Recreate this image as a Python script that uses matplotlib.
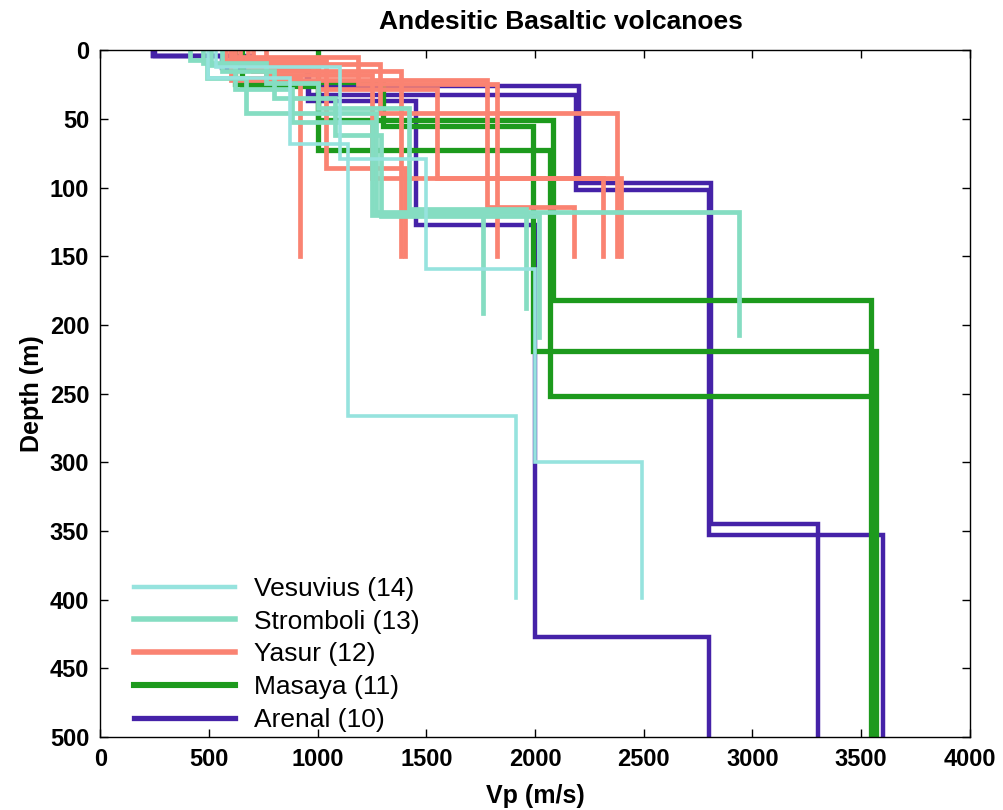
import matplotlib.pyplot as plt
from matplotlib.lines import Line2D
import numpy as np

# Layered Vp models: depth interfaces (m) and layer velocities (m/s)
vesuvius_depth = [[0, 20, 68, 266, 399],
                  [0, 12, 79, 159, 300, 399]]
vesuvius_vp = [[495, 870, 1140, 1910],
               [530, 1100, 1500, 2000, 2490]]

stromboli_depth = [[0, 7, 20, 46, 118, 207],
                   [0, 11, 28, 52, 120, 191],
                   [0, 9, 24, 42, 116, 188],
                   [0, 15, 35, 62, 121, 209]]
stromboli_vp = [[410, 490, 670, 1270, 2940],
                [510, 620, 880, 1250, 1760],
                [470, 760, 1000, 1420, 1960],
                [560, 800, 1080, 1290, 2020]]

yasur_depth = [[0, 5, 25, 150],
               [0, 15, 150],
               [0, 10, 46, 150],
               [0, 12, 28, 93, 150],
               [0, 18, 93, 150],
               [0, 22, 114, 150],
               [0, 20, 150],
               [0, 8, 86, 150]]
yasur_vp = [[600, 1185, 1823],
            [700, 1385],
            [640, 1285, 2375],
            [680, 1000, 1548, 2310],
            [760, 1250, 2395],
            [600, 1780, 2180],
            [620, 920],
            [580, 1040, 1400]]

masaya_depth = [[0, 25, 51, 182, 500],
                [0, 23, 55, 219, 500],
                [0, 26, 73, 252, 500]]
masaya_vp = [[620, 1000, 2080, 3545],
             [1000, 1300, 1990, 3570],
             [650, 1000, 2070, 3550]]

arenal_depth = [[0, 4, 12, 26, 97, 345, 500],
                [0, 4, 14, 33, 102, 353, 500],
                [0, 4, 13, 37, 127, 427, 500]]
arenal_vp = [[240, 620, 950, 2200, 2810, 3300],
             [250, 700, 960, 2190, 2800, 3600],
             [240, 560, 955, 1450, 2000, 2800]]

names = ['Vesuvius (14)', 'Stromboli (13)', 'Yasur (12)', 'Masaya (11)', 'Arenal (10)']
colors = ['#96E3DE', '#85DDC2', '#FA8372', '#1D9A1D', '#4522A8']
widths = [2.6, 3.4, 3.4, 3.8, 3.2]

plt.rcParams['font.family'] = ['Liberation Sans', 'DejaVu Sans']

fig = plt.figure(figsize=(10.04, 8.10), dpi=100, facecolor='white')
ax = fig.add_axes([0.1, 0.0901, 0.866, 0.848])


def profile_xy(depths, vels):
    x = np.repeat(vels, 2)
    y = np.column_stack([depths[:-1], depths[1:]]).ravel()
    return x, y


groups = [(vesuvius_depth, vesuvius_vp), (stromboli_depth, stromboli_vp),
          (yasur_depth, yasur_vp), (masaya_depth, masaya_vp),
          (arenal_depth, arenal_vp)]

# draw Arenal first, Vesuvius last
for i in reversed(range(len(groups))):
    deps, vps = groups[i]
    for d, v in zip(deps, vps):
        x, y = profile_xy(d, v)
        ax.plot(x, y, color=colors[i], lw=widths[i], solid_joinstyle='miter')

ax.set_xlim(0, 4000)
ax.set_ylim(500, 0)
ax.set_xticks(np.arange(0, 4001, 500))
ax.set_yticks(np.arange(0, 501, 50))
ax.tick_params(direction='in', top=True, right=True, length=6, width=1,
               labelsize=17, pad=8)
for lab in ax.get_xticklabels() + ax.get_yticklabels():
    lab.set_fontweight('bold')
for s in ax.spines.values():
    s.set_linewidth(1)

ax.set_xlabel('Vp (m/s)', fontsize=18, fontweight='bold', labelpad=9)
ax.set_ylabel('Depth (m)', fontsize=18, fontweight='bold', labelpad=4)
fig.text(0.559, 0.973, 'Andesitic Basaltic volcanoes', ha='center', va='center',
         fontsize=19, fontweight='bold')

handles = [Line2D([], [], color=c, lw=w + 0.6) for c, w in zip(colors, widths)]
ax.legend(handles, names, loc='lower left', bbox_to_anchor=(0.033, 0.0),
          frameon=False, fontsize=19, handlelength=3.8, handletextpad=0.75,
          labelspacing=0.33, borderpad=0, borderaxespad=0.2)

fig.savefig('out.png', dpi=100, facecolor='white')
